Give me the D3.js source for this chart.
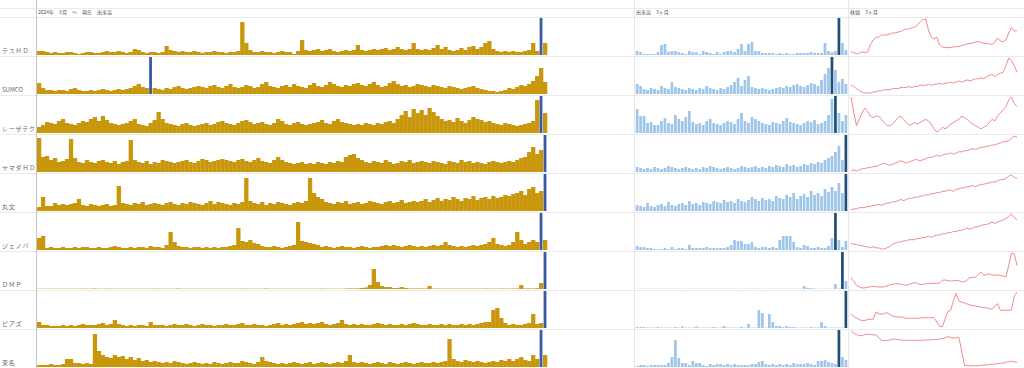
<!DOCTYPE html>
<html>
<head>
<meta charset="utf-8">
<script src="https://cdn.jsdelivr.net/npm/d3@7"></script>
<style>
  body { margin: 0; background: #fff; }
  text { font-family: "Noto Sans CJK JP", "Noto Sans", sans-serif; }
</style>
</head>
<body>
<svg id="chart"></svg>
<script>
// row labels and column titles
const names = ["テスＨＤ", "SUMCO", "レーザテク", "ヤマダＨＤ", "丸文", "ジェノバ", "ＤＭＰ", "ピアズ", "東名"];
const titles = ["2024年　9月　〜　現在　出来高", "出来高　3ヶ月", "株価　3ヶ月"];

// long term volume (since 2024/9)
const longTes = [4,4,3,2,3,2,2,3,3,2,1,2,3,3,2,2,3,4,3,3,4,3,2,3,6,5,3,2,3,3,2,3,9,5,4,3,4,3,3,4,3,2,3,3,4,3,3,2,3,3,4,33,12,5,3,3,4,3,3,2,3,4,3,3,1,4,15,5,4,5,6,4,5,6,4,3,4,5,4,5,10,5,4,5,6,5,6,7,5,6,8,6,5,6,12,6,5,6,5,7,10,6,8,5,4,5,7,5,8,9,6,8,12,14,6,4,3,4,3,4,3,3,4,5,12,4,37,12];
const longSumco = [11,6,4,4,3,4,4,3,5,6,4,3,3,4,3,4,5,4,3,4,5,4,5,6,8,10,7,6,37,6,5,4,6,5,7,8,6,5,6,7,8,7,6,8,9,7,6,8,10,7,6,7,9,8,6,7,10,12,8,7,6,8,9,7,10,8,7,6,9,11,8,7,9,12,10,8,7,9,8,10,11,9,8,10,12,9,7,8,11,13,10,8,9,7,8,10,9,8,7,9,8,7,6,8,7,6,5,6,7,8,6,5,4,3,3,2,3,4,6,5,7,9,8,10,13,18,26,12];
const longLaser = [6,8,11,10,9,12,14,10,9,8,10,12,11,14,16,12,17,13,10,9,8,9,10,12,14,9,8,7,10,13,21,14,10,9,8,7,9,10,8,7,8,9,10,8,9,11,12,10,9,8,10,12,13,11,9,10,11,9,8,10,14,12,9,8,10,11,9,8,9,10,11,13,10,9,12,14,11,10,9,8,9,8,10,9,8,10,9,11,12,10,14,18,22,16,24,20,23,18,25,21,17,14,12,13,11,15,12,10,13,16,14,13,11,12,10,9,8,10,9,8,7,8,9,10,12,33,37,20];
const longYamada = [34,15,16,12,14,10,11,13,33,14,10,9,12,10,9,11,12,10,9,11,8,10,11,32,12,10,9,11,8,10,9,12,11,10,9,10,11,12,10,9,11,13,12,10,11,12,13,12,11,10,12,13,11,10,12,14,11,10,9,12,15,12,10,9,8,9,10,8,9,8,10,9,8,10,9,11,10,15,17,18,14,12,10,9,11,10,9,12,10,8,9,11,10,12,9,10,11,10,9,11,10,9,8,11,10,9,12,10,11,9,10,9,8,10,11,10,9,10,11,10,12,14,15,20,25,18,22,37];
const longMarubun = [4,14,5,5,8,6,7,6,7,8,12,6,5,7,6,5,6,7,5,6,25,8,7,6,8,7,9,6,7,8,7,6,8,9,7,6,8,7,9,8,7,6,8,10,7,9,8,7,6,8,7,9,33,10,8,7,9,6,8,7,9,8,7,6,8,9,8,10,33,18,14,12,9,8,7,9,8,10,7,8,9,7,8,10,9,8,7,9,10,8,9,11,8,9,10,9,10,12,9,11,13,10,12,11,14,12,10,13,12,15,11,13,14,12,15,13,14,16,15,17,18,20,16,22,24,18,20,37];
const longGenova = [12,14,2,3,2,2,3,2,2,3,2,3,3,2,2,3,2,2,3,4,3,2,2,3,2,3,3,2,4,3,3,2,5,18,8,4,3,3,2,3,3,2,3,2,3,2,3,3,4,5,22,9,8,10,7,6,4,3,3,4,3,2,3,4,5,28,9,8,7,6,5,3,4,3,2,3,4,3,3,2,3,4,3,2,3,3,4,5,4,5,4,3,4,5,4,3,4,3,4,5,4,5,8,5,4,3,4,3,4,5,4,5,6,8,12,6,5,4,5,8,18,10,6,8,10,8,37,10];
const longDmp = [0.3,0.3,0.3,0.3,0.3,0.3,0.3,0.3,0.3,0.3,0.3,0.4,0.3,0.3,0.5,0.3,0.3,0.4,0.3,0.3,0.3,0.3,0.3,0.3,0.3,0.3,0.3,0.3,0.3,0.3,0.4,0.3,0.3,0.3,0.3,0.5,0.3,0.3,0.3,0.3,0.3,0.3,0.3,0.3,0.3,0.3,0.3,0.3,0.3,0.3,0.3,0.3,0.4,0.3,0.3,0.3,0.3,0.5,0.3,0.3,0.3,0.3,0.3,0.3,0.3,0.3,0.3,0.3,0.3,0.3,0.3,0.4,0.3,0.3,0.3,0.3,0.3,0.5,0.6,0.5,0.6,1,1.5,4,20,7,3,2,2,1,1,2,1,0.5,0.5,0.6,0.5,0.5,3,0.5,0.4,0.4,0.4,0.4,0.4,0.4,0.4,0.4,0.4,0.4,0.4,0.4,0.5,0.4,0.4,0.4,0.5,0.4,0.4,0.5,0.5,4,0.5,0.6,0.5,0.8,6,37];
const longPiaz = [6,3,3,2,2,2,3,2,3,2,3,4,3,3,3,4,5,3,4,8,4,3,2,3,2,3,3,2,6,3,3,3,2,3,4,3,3,4,3,2,3,4,3,3,2,3,3,4,3,3,4,5,3,3,4,3,3,2,3,4,5,3,4,3,4,5,6,4,5,4,5,6,4,3,4,5,8,4,3,4,3,4,3,3,4,5,4,3,4,3,3,4,3,4,5,4,3,3,4,3,3,4,3,4,3,3,4,3,4,3,4,5,6,6,18,20,10,5,3,4,3,3,4,5,14,4,5,37];
const longTomei = [2,2,2,3,2,2,3,8,8,4,4,3,4,3,33,16,12,10,9,12,10,11,8,10,7,9,6,7,5,6,5,4,5,4,6,5,4,3,4,5,4,3,4,3,5,4,3,4,5,4,4,6,5,4,3,5,10,6,5,4,3,4,3,4,5,4,3,4,5,3,4,5,4,3,4,5,4,6,12,5,4,5,4,3,4,5,4,3,5,4,3,4,5,4,3,4,5,4,4,5,4,5,6,28,8,6,5,7,6,5,6,5,4,5,6,5,7,6,8,6,8,10,7,6,12,8,37,12];

// volume, last 3 months
const shortTes = [4,3,1,1,1,1,3,10,11,3,4,4,3,2,1,4,3,3,1,4,3,2,1,3,1,3,4,4,3,6,11,4,11,13,4,4,2,2,2,2,1,2,1,2,1,1,2,2,2,2,3,2,2,2,12,4,3,4,37,12,5];
const shortSumco = [10,8,5,4,6,5,4,8,6,5,12,7,6,5,4,6,5,4,6,5,8,6,5,4,6,5,7,9,12,16,8,14,18,7,6,5,6,5,4,5,6,7,6,8,7,9,10,8,7,9,11,10,8,14,20,26,37,24,12,15,10];
const shortLaser = [24,17,17,10,11,8,8,12,15,10,9,18,14,12,16,22,11,9,10,8,12,14,10,9,8,10,12,11,9,14,20,12,10,16,14,12,10,9,8,11,10,9,12,15,11,10,9,8,10,12,11,13,9,10,12,18,34,37,20,12,18];
const shortYamada = [5,4,3,4,3,5,4,3,4,6,5,4,3,4,5,4,3,4,3,5,4,6,5,4,3,4,5,4,3,4,6,5,4,5,6,4,5,4,6,5,7,6,5,8,6,7,5,6,8,7,9,8,10,9,12,14,16,20,26,12,37];
const shortMarubun = [6,5,4,8,5,4,6,7,5,9,6,5,7,8,6,10,7,8,6,9,8,7,10,9,8,11,9,10,8,12,10,9,11,14,12,10,13,11,12,10,15,13,12,16,14,18,12,15,17,14,20,16,18,15,22,19,24,20,28,18,37];
const shortGenova = [4,3,3,2,2,1,1,1,2,1,3,1,2,2,1,5,2,2,2,2,3,2,2,2,2,2,3,5,10,9,9,6,6,8,3,2,3,3,2,3,2,10,14,14,14,8,3,2,5,4,2,2,3,2,2,4,12,37,10,3,9];
const shortDmp = [0.3,0.3,0.3,0.3,0.3,0.3,0.4,0.3,0.3,0.3,0.3,0.3,0.3,0.3,0.3,0.3,0.3,0.3,0.3,0.3,0.3,0.3,0.3,0.3,0.3,0.3,0.3,0.3,0.3,0.3,0.3,0.3,0.3,0.3,0.3,0.4,0.3,0.3,0.3,0.3,0.3,0.3,0.3,0.3,0.3,0.3,0.3,0.3,3,1.2,1,0.4,0.3,0.3,0.3,0.3,0.3,5,0.5,37,8];
const shortPiaz = [1,1,1,0.5,0.5,0.5,1,0.5,0.5,0.5,0.5,1,0.5,1.5,0.5,0.5,0.5,1.5,0.5,0.5,0.5,0.5,1,0.5,0.5,2,0.5,0.5,0.5,0.5,1,0.5,4,0.5,0.5,18,15,0.5,14,6,2,2,1,2,1,1,0.5,0.5,0.5,0.5,1,0.5,0.5,6,2,0.5,0.5,0.5,0.5,0.5,37];
const shortTomei = [1,2,2,1,2,2,2,2,2,4,10,27,9,4,4,2,6,4,4,2,1,3,2,3,3,2,3,2,3,2,2,2,2,3,3,5,6,3,2,3,2,3,2,3,2,4,3,3,3,4,3,2,6,6,7,5,4,3,37,10,7];

// share price, last 3 months
const priceTes = [4.3,3.5,2,3,4,3.5,4,11,16,18.5,19,21,21,21,22,23,23,24,24.5,26,27,27,28,29,31,34,36.5,37,26,19,17,19,11,9,8.5,8.3,8.5,9,9.3,9.5,10.5,11,12,12.5,13,14,14.5,13.5,12.7,12.5,12,11.7,14,18,15,14.3,16,23,28.5,25,25.5];
const priceSumco = [12,11,9,7,6,5,5,5,6,6,7,7,8,8,8,9,9,9,10,10,10,11,10,11,11,12,12,12,13,12,13,13,14,13,14,14,15,14,15,16,15,16,17,16,17,18,18,19,18,20,21,22,20,22,23,24,30,37,35,30,24];
const priceLaser = [34,24,16,20,24,27,25,22,21,22,22,20,18,16,16,17,19,21,22,20,18,16,17,18,17,18,19,20,19,17,14,12,13,15,14,15,17,18,19,20,22,21,20,18,17,16,15,14,15,16,18,20,19,22,24,26,28,32,34,30,28];
const priceYamada = [5,6,5,6,7,7,8,8,9,9,10,11,12,11,10,11,12,13,14,13,12,13,14,15,15,14,15,16,17,17,18,19,18,19,20,20,21,20,21,22,22,23,23,24,25,24,25,26,26,27,27,28,28,29,30,31,31,32,34,36,35];
const priceMarubun = [6,7,7,8,8,8,9,9,10,10,11,10,11,12,12,13,13,14,15,14,15,16,16,17,17,18,18,19,19,20,20,21,21,22,22,23,23,22,24,24,25,25,26,26,27,26,27,28,28,29,29,30,30,31,32,32,33,35,36,34,33];
const priceGenova = [9,8,8,7,7,6,6,5,6,5,5,4,4,5,6,8,9,10,10,11,11,12,12,12,13,13,14,14,15,14,15,16,16,17,17,18,18,19,19,20,20,21,22,21,22,23,23,24,25,25,26,27,26,27,28,29,30,32,34,31,29];
const priceDmp = [12.7,9,5,3.5,2.3,2.5,3,3.5,4,3.5,3.3,3.3,3.5,4.5,5.5,6,6.7,6.5,6,5.5,5,6,7,7.7,7,5.7,6,6.5,6.7,7,7,7,7.3,10,10.5,9.7,9.3,9.7,10,9.5,8.7,8.5,10.5,12.7,13,13.3,16,18.3,15,16,16.5,15.5,15,15.7,15,14.5,13.5,25,37.7,37,25];
const pricePiaz = [16.3,13.5,12,10.5,9.3,9.5,10.5,10.7,10.7,18,16.5,15.7,16.5,17.3,15.5,14,13.5,13,13,12.5,11.7,11.7,11.7,11.7,11.7,12,12.2,12.3,12.3,12.3,12.3,8,3.7,3,11,18.5,19.5,29,36.7,29,28,27,26,25,24.5,24,23.5,23,22.3,22,21.5,20.7,24,26.3,19.7,19.7,19.7,19.8,20,34,38];
const priceTomei = [38.7,36.5,35,34,33.7,35,35.3,35,34.7,34.7,32,29,28.8,28.7,29.3,30,30.3,29.8,29.4,29,29,29,29,29,29,29,29.2,29.3,29.5,29.6,29.7,30,30.3,30.6,31.5,33,32,31.3,31.7,32,18,3,2.7,2.5,2.3,2.5,2.7,3,3.2,3.3,3.7,4,4.5,4.7,5,5.3,6,7,7.3,6.5,6.3];

const longVol = [longTes, longSumco, longLaser, longYamada, longMarubun, longGenova, longDmp, longPiaz, longTomei];
const shortVol = [shortTes, shortSumco, shortLaser, shortYamada, shortMarubun, shortGenova, shortDmp, shortPiaz, shortTomei];
const prices = [priceTes, priceSumco, priceLaser, priceYamada, priceMarubun, priceGenova, priceDmp, pricePiaz, priceTomei];

const width = 1024, height = 368;
const headerH = 17, rowH = 39;
const colLines = [36, 634, 848];

const svg = d3.select("#chart")
    .attr("width", width)
    .attr("height", height);

// grid lines
svg.append("g")
    .selectAll("line")
    .data([8, ...d3.range(names.length + 1).map(i => headerH + i * rowH)])
    .join("line")
    .attr("x1", 0).attr("x2", width)
    .attr("y1", d => d + 0.5).attr("y2", d => d + 0.5)
    .attr("stroke", "#ebebeb");

svg.append("g")
    .selectAll("line")
    .data(colLines)
    .join("line")
    .attr("x1", d => d + 0.5).attr("x2", d => d + 0.5)
    .attr("y1", 0).attr("y2", height)
    .attr("stroke", (d, i) => i === 0 ? "#c4c4c4" : "#e8e8e8");

// column titles
svg.append("g")
    .selectAll("text")
    .data(titles)
    .join("text")
    .attr("x", (d, i) => colLines[i] + 2)
    .attr("y", 14)
    .attr("font-size", 5)
    .attr("fill", "#555")
    .attr("xml:space", "preserve")
    .text(d => d);

names.forEach((name, r) => {
    const top = headerH + r * rowH, bottom = top + rowH;
    const g = svg.append("g");

    g.append("text")
        .attr("x", 2)
        .attr("y", bottom - 3)
        .attr("font-size", 6)
        .attr("letter-spacing", name === "SUMCO" ? 0 : 0.8)
        .attr("fill", "#666")
        .text(name);

    // long volume bars
    const lv = longVol[r];
    const xl = d3.scaleBand().domain(d3.range(lv.length)).range([37, 547]).padding(0);
    const yl = d3.scaleLinear().domain([0, d3.max(lv)]).range([bottom - 1, top + 1]);
    const lmax = d3.maxIndex(lv);
    g.append("g")
        .selectAll("rect")
        .data(lv)
        .join("rect")
        .attr("x", (d, i) => i === lmax ? xl(i) + xl.bandwidth() / 2 - 1.4 : xl(i))
        .attr("width", (d, i) => i === lmax ? 2.8 : xl.bandwidth() + 0.3)
        .attr("y", d => yl(d))
        .attr("height", d => yl(0) - yl(d))
        .attr("fill", (d, i) => i === lmax ? "#3a5aa8" : "#c9970c");

    // 3 month volume bars
    const sv = shortVol[r];
    const xs = d3.scaleBand().domain(d3.range(sv.length)).range([635, 848]).padding(0.22);
    const ys = d3.scaleLinear().domain([0, d3.max(sv)]).range([bottom - 1, top + 1]);
    const smax = d3.maxIndex(sv);
    g.append("g")
        .selectAll("rect")
        .data(sv)
        .join("rect")
        .attr("x", (d, i) => xs(i))
        .attr("width", xs.bandwidth())
        .attr("y", d => ys(d))
        .attr("height", d => ys(0) - ys(d))
        .attr("fill", (d, i) => i === smax ? "#1f4e79" : "#9fc5ea");

    // price line
    const pv = prices[r];
    const xp = d3.scalePoint().domain(d3.range(pv.length)).range([851, 1017]);
    const yp = d3.scaleLinear().domain(d3.extent(pv)).range([bottom - 2, top + 2]);
    g.append("path")
        .datum(pv)
        .attr("fill", "none")
        .attr("stroke", "#f28b8b")
        .attr("stroke-width", 1)
        .attr("d", d3.line().x((d, i) => xp(i)).y(d => yp(d)));
});
</script>
</body>
</html>
